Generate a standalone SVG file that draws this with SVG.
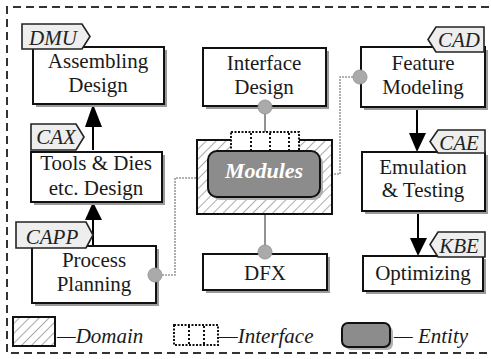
<svg xmlns="http://www.w3.org/2000/svg" width="491" height="359" viewBox="0 0 491 359">
<defs>
<pattern id="hatch" patternUnits="userSpaceOnUse" width="7" height="7" patternTransform="rotate(45)">
<rect width="7" height="7" fill="#fff"/>
<line x1="0" y1="0" x2="0" y2="7" stroke="#888" stroke-width="1.4"/>
</pattern>
<marker id="ah" viewBox="0 0 10 10" refX="10" refY="5" markerWidth="9" markerHeight="9" markerUnits="userSpaceOnUse" orient="auto">
<path d="M0,0 L10,5 L0,10 Z" fill="#000"/>
</marker>
<marker id="tri" viewBox="0 0 18 20" refX="20" refY="9" markerWidth="18" markerHeight="20" markerUnits="userSpaceOnUse" orient="auto">
<path d="M0,0 L20,9 L0,18 Z" fill="#000"/>
</marker>
</defs>
<style>
.box{fill:#fff;stroke:#111;stroke-width:2}
.shadow{fill:#9a9a9a}
.t{font-family:"Liberation Serif","Times New Roman",serif;font-size:21px;fill:#1a1a1a;text-anchor:middle}
.tag{fill:#eeeeee;stroke:#222;stroke-width:1.6}
.tt{font-family:"Liberation Serif","Times New Roman",serif;font-size:21px;font-style:italic;fill:#222;text-anchor:middle}
.lt{font-family:"Liberation Serif","Times New Roman",serif;font-size:21px;font-style:italic;fill:#1a1a1a}
.dot{fill:#aaa;stroke:#999;stroke-width:1}
.conn{fill:none;stroke:#999;stroke-width:1.6;stroke-dasharray:2 1}
.vline{fill:none;stroke:#777;stroke-width:1.6}
.arr{fill:none;stroke:#000;stroke-width:2}
.ahd{fill:#000}
.intf{fill:#fff;stroke:#111;stroke-width:2;stroke-dasharray:2 1.5}
.intl{stroke:#111;stroke-width:2;stroke-dasharray:2 2}
.entity{fill:#8c8c8c;stroke:#111;stroke-width:2}
</style>
<rect width="491" height="359" fill="#fff"/>
<path d="M489,7 H7 V353 H489" fill="none" stroke="#333" stroke-width="2" stroke-dasharray="8 5"/>

<g id="connectors">
<path class="conn" d="M162,275 H175 V178 H197"/>
<path class="conn" d="M353,77 H340 V174 H322"/>
<path class="vline" d="M265,107 V132"/>
<path class="vline" d="M265,214 V250"/>
<line class="arr" x1="93" y1="150" x2="93" y2="125"/>
<path class="ahd" d="M85,127 L102,127 L93,104 Z"/>
<line class="arr" x1="93" y1="246" x2="93" y2="218"/>
<path class="ahd" d="M85,220 L102,220 L93,202 Z"/>
<line class="arr" x1="417" y1="107" x2="417" y2="135"/>
<path class="ahd" d="M409,133 L426,133 L417,152 Z"/>
<line class="arr" x1="418" y1="211" x2="418" y2="240"/>
<path class="ahd" d="M410,238 L427,238 L418,256 Z"/>
</g>

<g id="assembling">
<rect class="shadow" x="36" y="50" width="131" height="57"/>
<rect class="box" x="33" y="47" width="131" height="57"/>
<text class="t" x="98" y="68">Assembling</text>
<text class="t" x="98" y="92">Design</text>
</g>
<g id="tag-dmu">
<path class="tag" d="M22,24 H82 L90,36.5 L82,49 H22 Z"/>
<text class="tt" x="53" y="45">DMU</text>
</g>

<g id="tools">
<rect class="shadow" x="34" y="155" width="131" height="50"/>
<rect class="box" x="31" y="152" width="131" height="50"/>
<text class="t" x="96" y="170">Tools &amp; Dies</text>
<text class="t" x="96" y="195">etc. Design</text>
</g>
<g id="tag-cax">
<path class="tag" d="M31,124 H76 L84,137 L76,150 H31 Z"/>
<text class="tt" x="56" y="144">CAX</text>
</g>

<g id="process">
<rect class="shadow" x="35" y="249" width="124" height="57"/>
<rect class="box" x="32" y="246" width="124" height="57"/>
<text class="t" x="94" y="267">Process</text>
<text class="t" x="94" y="291">Planning</text>
<circle class="dot" cx="155" cy="275" r="7"/>
</g>
<g id="tag-capp">
<path class="tag" d="M16,222 H86 L93,235 L86,248 H16 Z"/>
<text class="tt" x="52" y="244">CAPP</text>
</g>

<g id="interface-design">
<rect class="shadow" x="206" y="51" width="123" height="58"/>
<rect class="box" x="203" y="48" width="123" height="58"/>
<text class="t" x="264" y="70">Interface</text>
<text class="t" x="264" y="94">Design</text>
<circle class="dot" cx="265" cy="107" r="7"/>
</g>

<g id="modules">
<rect x="197" y="140" width="135" height="74" fill="url(#hatch)" stroke="#111" stroke-width="2"/>
<rect x="231" y="132" width="68" height="19" fill="#fff"/>
<rect class="intf" x="231" y="132" width="68" height="19"/>
<line class="intl" x1="251" y1="133" x2="251" y2="150"/>
<line class="intl" x1="270" y1="133" x2="270" y2="150"/>
<line class="intl" x1="289" y1="133" x2="289" y2="150"/>
<rect x="211" y="154" width="112" height="46" rx="9" fill="#b0b0b0"/>
<rect class="entity" x="208" y="151" width="112" height="46" rx="9"/>
<text x="264" y="178" font-family="'Liberation Serif','Times New Roman',serif" font-size="22" font-style="italic" font-weight="bold" fill="#fff" text-anchor="middle">Modules</text>
</g>

<g id="dfx">
<rect class="shadow" x="206" y="257" width="124" height="36"/>
<rect class="box" x="203" y="254" width="124" height="36"/>
<text class="t" x="265" y="280">DFX</text>
<circle class="dot" cx="265" cy="252" r="7"/>
</g>

<g id="feature">
<rect class="shadow" x="364" y="50" width="124" height="60"/>
<rect class="box" x="361" y="47" width="124" height="60"/>
<text class="t" x="423" y="70">Feature</text>
<text class="t" x="423" y="94">Modeling</text>
<circle class="dot" cx="360" cy="77" r="7"/>
</g>
<g id="tag-cad">
<path class="tag" d="M484,27 H436 L428,39.5 L436,52 H484 Z"/>
<text class="tt" x="459" y="47">CAD</text>
</g>

<g id="emulation">
<rect class="shadow" x="365" y="155" width="123" height="59"/>
<rect class="box" x="362" y="152" width="123" height="59"/>
<text class="t" x="423" y="174">Emulation</text>
<text class="t" x="423" y="197">&amp; Testing</text>
</g>
<g id="tag-cae">
<path class="tag" d="M485,130 H438 L430,141.5 L438,153 H485 Z"/>
<text class="tt" x="459" y="150">CAE</text>
</g>

<g id="optimizing">
<rect class="shadow" x="366" y="259" width="120" height="35"/>
<rect class="box" x="363" y="256" width="120" height="35"/>
<text class="t" x="423" y="280">Optimizing</text>
</g>
<g id="tag-kbe">
<path class="tag" d="M485,232 H438 L430,244.5 L438,257 H485 Z"/>
<text class="tt" x="459" y="253">KBE</text>
</g>

<g id="legend">
<rect x="13" y="317" width="42" height="29" fill="url(#hatch)" stroke="#111" stroke-width="2"/>
<text class="lt" x="57" y="343">—Domain</text>
<rect class="intf" x="174" y="325" width="44" height="20"/>
<line class="intl" x1="189" y1="326" x2="189" y2="344"/>
<line class="intl" x1="204" y1="326" x2="204" y2="344"/>
<text class="lt" x="219" y="343">—Interface</text>
<rect x="345" y="326" width="48" height="24" rx="6" fill="#b0b0b0"/>
<rect class="entity" x="342" y="323" width="48" height="24" rx="6"/>
<text class="lt" x="394" y="343">— Entity</text>
</g>
</svg>
